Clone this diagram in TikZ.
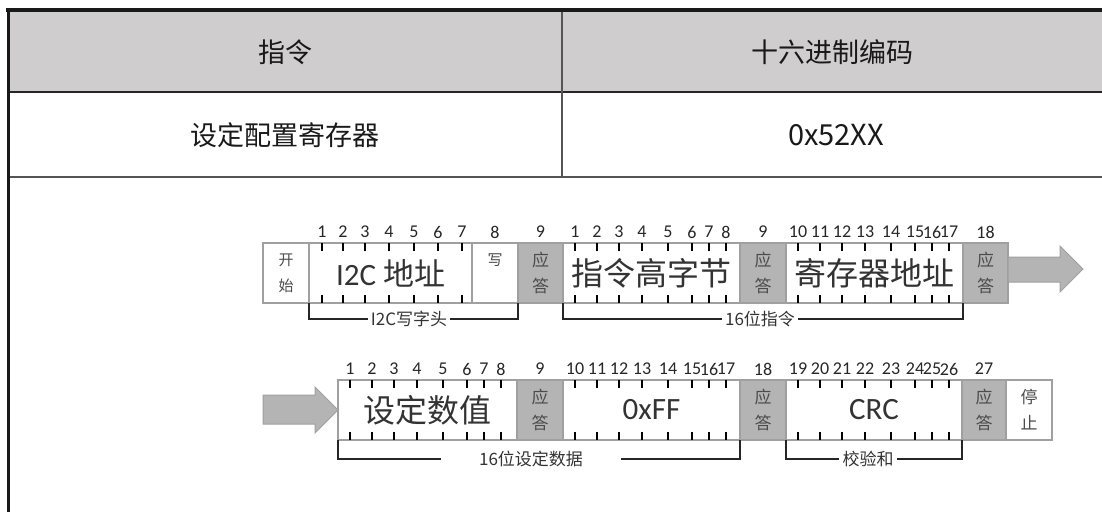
\documentclass[tikz,border=0pt]{standalone}
\usepackage{fontspec}
\setmainfont{Noto Sans CJK SC}
\newfontfamily\latinfont{Carlito}
\usetikzlibrary{positioning}
\definecolor{headgray}{HTML}{CFCDCE}
\definecolor{ackgray}{HTML}{B4B4B4}
\definecolor{boxline}{HTML}{A0A0A0}
\definecolor{rulegray}{HTML}{555555}
\tikzset{
  cell/.style={font=\fontsize{27}{32}\selectfont, text=black!90},
  field/.style={draw=boxline, line width=1.2pt, fill=white, minimum height=60pt, inner sep=0pt, outer sep=0pt, text=black!80},
  bigfield/.style={field, font=\fontsize{32}{36}\selectfont},
  smallbox/.style={field, align=center, font=\fontsize{15}{26}\selectfont, text=black!70},
  ackbox/.style={smallbox, fill=ackgray, minimum width=45pt, font=\fontsize{17}{26}\selectfont},
  tick/.style={line width=2pt, black},
  bitnum/.style={font=\latinfont\fontsize{18}{18}\selectfont, inner sep=0pt, text=black!85},
  bracket/.style={line width=1.8pt, black!85},
  brlabel/.style={font=\fontsize{17}{17}\selectfont, inner xsep=3pt, inner ysep=0pt, text=black!80},
  flow/.style={fill=ackgray, draw=boxline, line width=1pt}
}
\begin{document}
\begin{tikzpicture}[x=1pt, y=-1pt]
\useasboundingbox (0,0) rectangle (1102,512);
\fill[headgray] (8,10) rectangle (1102,92);
\draw[line width=1.5pt, black!85] (8,92) -- (1102,92);
\draw[line width=1.5pt, rulegray] (8,177) -- (1102,177);
\draw[line width=1.5pt, rulegray] (562,10) -- (562,177);
\draw[line width=4pt, black!90] (6,10) -- (1102,10);
\draw[line width=3pt, black!90] (8,8) -- (8,512);

\node[cell] (head1) at (285,52) {指令};
\node[cell] (head2) at (832,52) {十六进制编码};
\node[cell] (cmd1) at (285,135) {设定配置寄存器};
\node[cell, font=\fontsize{29}{32}\selectfont] (code1) at (836,135) {0x52XX};

\node[smallbox, minimum width=46pt, anchor=north west] (start) at (263,243) {开\\始};
\node[bigfield, minimum width=163pt, right=0pt of start, font=\fontsize{31}{36}\selectfont] (addr) {{\latinfont I2C} 地址};
\node[smallbox, minimum width=46pt, right=0pt of addr] (wr) {写\\\mbox{}};
\node[ackbox, right=0pt of wr] (ack1) {应\\答};
\node[bigfield, minimum width=177pt, right=0pt of ack1] (cmdhi) {指令高字节};
\node[ackbox, minimum width=46pt, right=0pt of cmdhi] (ack2) {应\\答};
\node[bigfield, minimum width=177pt, right=0pt of ack2] (reg) {寄存器地址};
\node[ackbox, right=0pt of reg] (ack3) {应\\答};
\draw[flow] (1008,257) -- (1060,257) -- (1060,246) -- (1083,269) -- (1060,292) -- (1060,282) -- (1008,282) -- cycle;

\node[bigfield, minimum width=179pt, anchor=north west] (val) at (338,380) {设定数值};
\node[ackbox, minimum width=46pt, right=0pt of val] (ack4) {应\\答};
\node[bigfield, minimum width=177pt, right=0pt of ack4, font=\latinfont\fontsize{31}{36}\selectfont] (ff) {0xFF};
\node[ackbox, minimum width=46pt, right=0pt of ff] (ack5) {应\\答};
\node[bigfield, minimum width=176pt, right=0pt of ack5, font=\latinfont\fontsize{31}{36}\selectfont] (crc) {CRC};
\node[ackbox, minimum width=44pt, right=0pt of crc] (ack6) {应\\答};
\node[smallbox, minimum width=46pt, right=0pt of ack6, font=\fontsize{17}{26}\selectfont] (stop) {停\\止};
\draw[flow] (263,395) -- (315,395) -- (315,387) -- (338,410) -- (315,433) -- (315,424) -- (263,424) -- cycle;

\foreach \o [count=\i] in {13,34,56,80,105,129,153} {
  \draw[tick] (309+\o,243) -- ++(0,8);
  \draw[tick] (309+\o,303) -- ++(0,-8);
  \node[bitnum] at (309+\o,232) {\i};
}
\foreach \b/\s/\t in {563/0/243, 786/9/243, 338/0/380, 563/9/380, 786/18/380}
  \foreach \o [count=\i] in {12,34,56,79,105,129,146,163} {
    \pgfmathtruncatemacro\n{\i+\s}
    \draw[tick] (\b+\o,\t) -- ++(0,8);
    \draw[tick] (\b+\o,\t+60) -- ++(0,-8);
    \node[bitnum] at (\b+\o,\t-11) {\n};
  }
\node[bitnum] at ([yshift=11pt]wr.north) {8};
\node[bitnum] at ([yshift=11pt]ack1.north) {9};
\node[bitnum] at ([yshift=11pt]ack2.north) {9};
\node[bitnum] at ([yshift=11pt]ack3.north) {18};
\node[bitnum] at ([yshift=11pt]ack4.north) {9};
\node[bitnum] at ([yshift=11pt]ack5.north) {18};
\node[bitnum] at ([yshift=11pt]ack6.north) {27};

\node[brlabel] (hdr) at (409,319) {I2C写字头};
\draw[bracket] (addr.south west) |- (hdr.west);
\draw[bracket] (hdr.east) -| (wr.south east);
\node[brlabel] (cmdlbl) at (760,319) {16位指令};
\draw[bracket] (cmdhi.south west) |- (cmdlbl.west);
\draw[bracket] (cmdlbl.east) -| (reg.south east);
\node[brlabel, inner xsep=38pt] (datalbl) at (531,459) {16位设定数据};
\draw[bracket] (val.south west) |- (datalbl.west);
\draw[bracket] (datalbl.east) -| (ff.south east);
\node[brlabel] (crclbl) at (868,459) {校验和};
\draw[bracket] (crc.south west) |- (crclbl.west);
\draw[bracket] (crclbl.east) -| (crc.south east);
\end{tikzpicture}
\end{document}
